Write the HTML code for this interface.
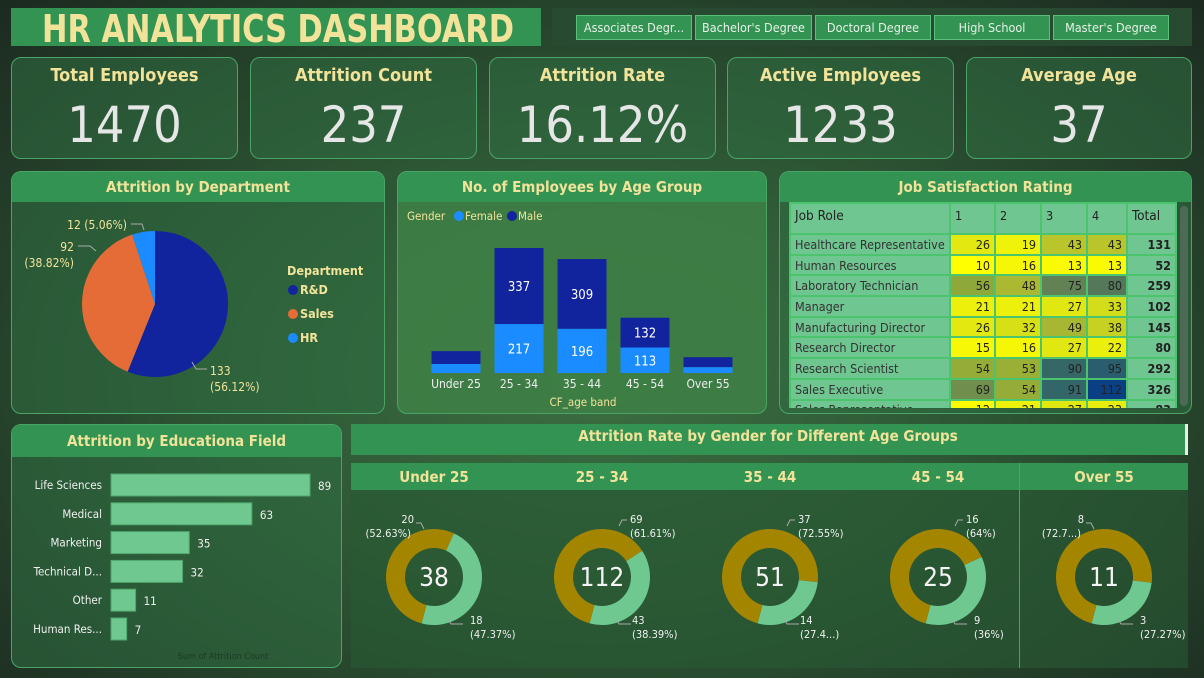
<!DOCTYPE html>
<html><head><meta charset="utf-8"><style>
*{box-sizing:border-box;margin:0;padding:0}
body{width:1204px;height:678px;overflow:hidden;font-family:"Liberation Sans","DejaVu Sans",sans-serif;background:radial-gradient(ellipse at 50% 55%,#3c7042 0%,#2d5634 45%,#1c2a20 100%);position:relative}
.abs{position:absolute}
.card{position:absolute;border:1px solid #4aa468;border-radius:10px;background:rgba(48,110,66,.55)}
.kt{position:absolute;left:0;right:0;top:7px;text-align:center;color:#f2e39a;font:bold 18px "DejaVu Sans Condensed","Liberation Sans",sans-serif}
.kv{position:absolute;left:0;right:0;top:38px;text-align:center;color:#e6e6e6;font:50px "DejaVu Sans Condensed","Liberation Sans",sans-serif}
.hdr{position:absolute;left:0;right:0;top:0;height:30px;background:#339352;border-radius:9px 9px 0 0;color:#f2e39a;text-align:center;font:bold 15px "DejaVu Sans Condensed","Liberation Sans",sans-serif;line-height:30px}
.fb{position:absolute;top:15px;height:25px;background:#339352;border:1px solid #5bbf7c;color:#e8f0e8;font:12.5px "DejaVu Sans Condensed","Liberation Sans",sans-serif;text-align:center;line-height:23px;white-space:nowrap;overflow:hidden}
svg text{font-family:"DejaVu Sans Condensed","Liberation Sans",sans-serif}
table{border-collapse:collapse;font:12.5px "DejaVu Sans Condensed","Liberation Sans",sans-serif;color:#222}
td{border:2px solid #4cc46e;height:20.7px;padding:0 4px;white-space:nowrap}
</style></head><body>
<div class="abs" style="left:11px;top:8px;width:530px;height:38px;background:#339352;overflow:hidden">
<span id="ttl" style="position:absolute;left:31px;top:0;white-space:nowrap;color:#f2e39a;font:bold 38px 'DejaVu Sans Condensed','Liberation Sans',sans-serif;line-height:42px;transform-origin:0 0;display:inline-block">HR ANALYTICS DASHBOARD</span></div>
<div class="abs" style="left:552px;top:8px;width:640px;height:38px;background:#284a31"></div>
<div class="fb" style="left:576px;width:116px">Associates Degr...</div>
<div class="fb" style="left:695px;width:117px">Bachelor's Degree</div>
<div class="fb" style="left:815px;width:116px">Doctoral Degree</div>
<div class="fb" style="left:934px;width:116px">High School</div>
<div class="fb" style="left:1053px;width:116px">Master's Degree</div>

<div class="card" style="left:11px;top:57px;width:227px;height:102px"><div class="kt">Total Employees</div><div class="kv">1470</div></div>
<div class="card" style="left:250px;top:57px;width:227px;height:102px"><div class="kt">Attrition Count</div><div class="kv">237</div></div>
<div class="card" style="left:489px;top:57px;width:227px;height:102px"><div class="kt">Attrition Rate</div><div class="kv">16.12%</div></div>
<div class="card" style="left:727px;top:57px;width:227px;height:102px"><div class="kt">Active Employees</div><div class="kv">1233</div></div>
<div class="card" style="left:966px;top:57px;width:226px;height:102px"><div class="kt">Average Age</div><div class="kv">37</div></div>

<div class="card" style="left:11px;top:171px;width:374px;height:243px"><div class="hdr">Attrition by Department</div>
<svg id="pie" width="374" height="243" style="position:absolute;left:0;top:0"></svg></div>

<div class="card" style="left:397px;top:171px;width:370px;height:243px;background:rgba(62,128,70,.9)"><div class="hdr">No. of Employees by Age Group</div>
<svg id="age" width="370" height="243" style="position:absolute;left:0;top:0"></svg></div>

<div class="card" style="left:779px;top:171px;width:413px;height:243px;overflow:hidden"><div class="hdr">Job Satisfaction Rating</div>
<div class="abs" style="left:9px;top:30px;width:388px;height:206px;overflow:hidden;background:#6fc690">
<table id="tbl" style="width:388px"></table></div>
<div class="abs" style="left:400px;top:34px;width:8px;height:200px;background:#4c6a55;border-radius:4px"></div></div>

<div class="card" style="left:11px;top:424px;width:331px;height:244px"><div class="hdr" style="height:32px;line-height:32px">Attrition by Educationa Field</div>
<svg id="edu" width="331" height="244" style="position:absolute;left:0;top:0"></svg></div>

<div class="abs" style="left:351px;top:424px;width:837px;height:31px;background:#339352;color:#f2e39a;text-align:center;font:bold 15px 'DejaVu Sans Condensed','Liberation Sans',sans-serif;line-height:24px;border-right:3px solid #e8f0e8">Attrition Rate by Gender for Different Age Groups</div>
<div class="abs" style="left:351px;top:463px;width:837px;height:205px;background:rgba(40,90,52,.6)"></div>
<div class="abs" style="left:351px;top:463px;width:837px;height:27px;background:#339352"></div>
<div class="abs" style="left:1019px;top:463px;width:1px;height:205px;background:#5a9a6a"></div>
<svg id="don" width="837" height="205" style="position:absolute;left:351px;top:463px"></svg>

<script>
(function(){const t=document.getElementById('ttl');const w=t.getBoundingClientRect().width;t.style.transform='scaleX('+(472/w)+')';})();
const NS="http://www.w3.org/2000/svg";
function mk(p,t,a,txt){const e=document.createElementNS(NS,t);for(const k in a)e.setAttribute(k,a[k]);if(txt!==undefined)e.textContent=txt;p.appendChild(e);return e;}
function arcPath(cx,cy,r0,r1,a0,a1){const rad=a=>(a-90)*Math.PI/180;const lg=(a1-a0)>180?1:0;
const p=(r,a)=>[cx+r*Math.cos(rad(a)),cy+r*Math.sin(rad(a))];
const [x1,y1]=p(r1,a0),[x2,y2]=p(r1,a1);
if(r0===0)return `M${cx},${cy}L${x1},${y1}A${r1},${r1} 0 ${lg} 1 ${x2},${y2}Z`;
const [x3,y3]=p(r0,a1),[x4,y4]=p(r0,a0);
return `M${x1},${y1}A${r1},${r1} 0 ${lg} 1 ${x2},${y2}L${x3},${y3}A${r0},${r0} 0 ${lg} 0 ${x4},${y4}Z`;}

// Pie
const deptNames=["R&D","Sales","HR"];
const deptValues=[133,92,12];
const deptColors=["#12239e","#e66c37","#1a8cff"];
(function(){const s=document.getElementById('pie');const tot=deptValues.reduce((a,b)=>a+b,0);let a=0;const cx=143,cy=132,R=73;
const lab={fill:'#f2e39a','font-size':12};
deptValues.forEach((v,i)=>{const sw=v/tot*360;const e=mk(s,'path',{d:arcPath(cx,cy,0,R,a,a+sw-0.01),fill:deptColors[i]});


const pct=(v/tot*100).toFixed(2)+'%';
if(i===2){mk(s,'text',Object.assign({x:115,y:57,'text-anchor':'end'},lab),v+' ('+pct+')');mk(s,'path',{d:'M119,52 h11 l2,6',stroke:'#aaa',fill:'none'});}
else if(i===1){mk(s,'text',Object.assign({x:62,y:79,'text-anchor':'end'},lab),v);mk(s,'text',Object.assign({x:62,y:95,'text-anchor':'end'},lab),'('+pct+')');mk(s,'path',{d:'M66,74 h12 l6,5',stroke:'#aaa',fill:'none'});}
else{mk(s,'text',Object.assign({x:198,y:203},lab),v);mk(s,'text',Object.assign({x:198,y:219},lab),'('+pct+')');mk(s,'path',{d:'M180,190 l4,7 h11',stroke:'#aaa',fill:'none'});}
a+=sw;});
mk(s,'text',{x:275,y:103,fill:'#f2e39a','font-size':12.5,'font-weight':'bold'},'Department');
deptNames.forEach((n,i)=>{const g=mk(s,'g',{});
mk(g,'circle',{cx:281,cy:118+i*24,r:5,fill:deptColors[i]});mk(g,'text',{x:288,y:122+i*24,fill:'#f2e39a','font-size':12.5,'font-weight':'bold'},n);});})();

// Age group stacked bars
const ageBands=["Under 25","25 - 34","35 - 44","45 - 54","Over 55"];
const femaleCounts=[40,217,196,113,26];
const maleCounts=[57,337,309,132,44];
(function(){const s=document.getElementById('age');const base=201,k=125/554,cx0=58,step=63,w=49;
const y=v=>base-v*k;
mk(s,'text',{x:9,y:48,fill:'#f2e39a','font-size':11.5},'Gender');
mk(s,'circle',{cx:61,cy:44,r:5,fill:'#1a8cff'});mk(s,'text',{x:67,y:48,fill:'#f2e39a','font-size':11.5},'Female');
mk(s,'circle',{cx:114,cy:44,r:5,fill:'#12239e'});mk(s,'text',{x:120,y:48,fill:'#f2e39a','font-size':11.5},'Male');
ageBands.forEach((b,i)=>{const cx=cx0+i*step;const f=femaleCounts[i],m=maleCounts[i];
const r1=mk(s,'rect',{x:cx-w/2,y:y(f),width:w,height:f*k,fill:'#1a8cff'});


const r2=mk(s,'rect',{x:cx-w/2,y:y(f+m),width:w,height:m*k,fill:'#12239e'});


if(f*k>20)mk(s,'text',{x:cx,y:y(f/2)+5,fill:'#fff','font-size':13,'text-anchor':'middle'},f);
if(m*k>20)mk(s,'text',{x:cx,y:y(f+m/2)+5,fill:'#fff','font-size':13,'text-anchor':'middle'},m);
mk(s,'text',{x:cx,y:216,fill:'#eee','font-size':12,'text-anchor':'middle'},b);});
mk(s,'text',{x:185,y:234,fill:'#f2e39a','font-size':11.5,'text-anchor':'middle'},'CF_age band');})();

// Job satisfaction table
const roles=["Healthcare Representative","Human Resources","Laboratory Technician","Manager","Manufacturing Director","Research Director","Research Scientist","Sales Executive","Sales Representative"];
const sat1=[26,10,56,21,26,15,54,69,12];
const sat2=[19,16,48,21,32,16,53,54,21];
const sat3=[43,13,75,27,49,27,90,91,27];
const sat4=[43,13,80,33,38,22,95,112,23];
(function(){const t=document.getElementById('tbl');
const stops=[[10,[255,255,0]],[30,[220,228,20]],[45,[180,192,45]],[56,[143,168,58]],[70,[110,140,80]],[80,[85,120,90]],[92,[48,100,106]],[112,[11,63,132]]];
function col(v){for(let i=1;i<stops.length;i++){if(v<=stops[i][0]){const [a,ca]=stops[i-1],[b,cb]=stops[i];const t=(v-a)/(b-a);return 'rgb('+ca.map((c,j)=>Math.round(c+(cb[j]-c)*t)).join(',')+')';}}return 'rgb(11,63,132)';}
let h='<tr style="height:31px;border-bottom:2px solid #2a8ad0"><td style="width:160px;font-size:13.5px;vertical-align:top;padding-top:4px">Job Role</td><td style="width:45px;vertical-align:top;padding-top:4px">1</td><td style="width:46px;vertical-align:top;padding-top:4px">2</td><td style="width:46px;vertical-align:top;padding-top:4px">3</td><td style="width:40px;vertical-align:top;padding-top:4px">4</td><td style="vertical-align:top;padding-top:4px;font-size:13.5px">Total</td></tr>';
roles.forEach((r,i)=>{const v=[sat1[i],sat2[i],sat3[i],sat4[i]];const tot=v.reduce((a,b)=>a+b,0);
h+='<tr><td style="color:#333">'+r+'</td>'+v.map(x=>'<td style="text-align:right;background:'+col(x)+'">'+x+'</td>').join('')+'<td style="text-align:right;font-weight:bold">'+tot+'</td></tr>';});
t.innerHTML=h;})();

// Education bars
const eduFields=["Life Sciences","Medical","Marketing","Technical D...","Other","Human Res..."];
const eduCounts=[89,63,35,32,11,7];
(function(){const s=document.getElementById('edu');const x0=99,k=199/89,y0=60,step=28.8,h=22;
eduFields.forEach((f,i)=>{const cy=y0+i*step;const v=eduCounts[i];
const r=mk(s,'rect',{x:x0,y:cy-h/2,width:v*k,height:h,fill:'#6ec88f',stroke:'#4fa56c','stroke-width':1});


mk(s,'text',{x:x0-9,y:cy+4,fill:'#f0f0f0','font-size':11.5,'text-anchor':'end'},f);
mk(s,'text',{x:x0+v*k+8,y:cy+5,fill:'#f0f0f0','font-size':11.5},v);});
mk(s,'text',{x:211,y:234,fill:'#1e3a26','font-size':9,'text-anchor':'middle'},'Sum of Attrition Count');})();

// Donuts
const donutBands=["Under 25","25 - 34","35 - 44","45 - 54","Over 55"];
const donutGold=[20,69,37,16,8];
const donutGreen=[18,43,14,9,3];
const goldPctLabels=["(52.63%)","(61.61%)","(72.55%)","(64%)","(72.7...)"];
const greenPctLabels=["(47.37%)","(38.39%)","(27.4...)","(36%)","(27.27%)"];
(function(){const s=document.getElementById('don');const cxs=[83,251,419,587,753];const cy=114;
donutBands.forEach((b,i)=>{const cx=cxs[i];const g=donutGold[i],gr=donutGreen[i],tot=g+gr;
mk(s,'text',{x:cx,y:19,fill:'#f2e39a','font-size':15,'font-weight':'bold','text-anchor':'middle'},b);
const sw=gr/tot*360;const end=195,start=end-sw;
const p1=mk(s,'path',{d:arcPath(cx,cy,29,48,start,end),fill:'#6ec88f'});


const p2=mk(s,'path',{d:arcPath(cx,cy,29,48,end,start+360),fill:'#a38500'});


mk(s,'text',{x:cx,y:cy+9,fill:'#f4f4f4','font-size':26,'text-anchor':'middle'},tot);
const left=(i===0||i===4);
mk(s,'text',{x:left?cx-20:cx+28,y:cy-54,fill:'#f0f0f0','font-size':11,'text-anchor':left?'end':'start'},g);
mk(s,'text',{x:left?cx-23:cx+28,y:cy-40,fill:'#f0f0f0','font-size':11,'text-anchor':left?'end':'start'},goldPctLabels[i]);
mk(s,'path',{d:left?`M${cx-18},${cy-54} h5 l3,6`:`M${cx+25},${cy-57} h-5 l-3,6`,stroke:'#aaa',fill:'none','stroke-width':1});
mk(s,'text',{x:cx+36-(i==1||i==2?6:0),y:cy+47,fill:'#f0f0f0','font-size':11},gr);
mk(s,'text',{x:cx+36-(i==1||i==2?6:0),y:cy+61,fill:'#f0f0f0','font-size':11},greenPctLabels[i]);
mk(s,'path',{d:`M${cx+14},${cy+42} l3,5 h12`,stroke:'#aaa',fill:'none','stroke-width':1});});})();
</script>
</body></html>
